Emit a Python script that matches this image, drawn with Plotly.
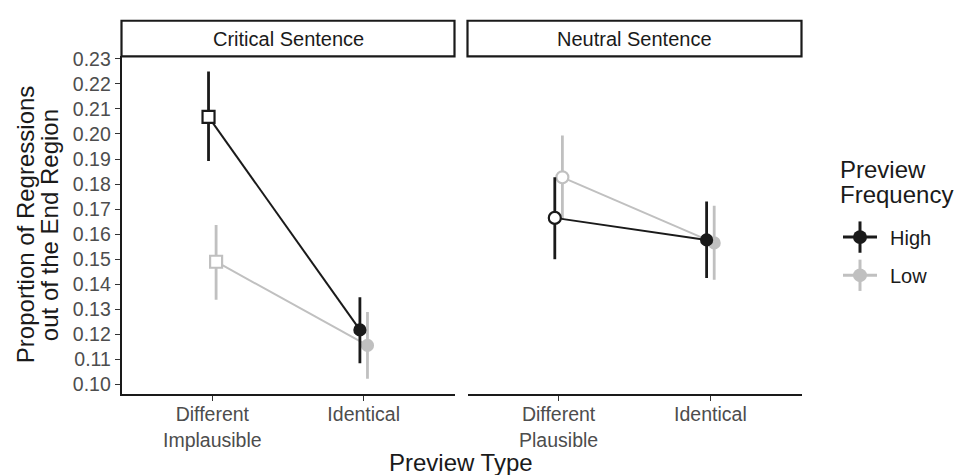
import plotly.graph_objects as go

# ---------------- data ----------------
facets = ["Critical Sentence", "Neutral Sentence"]
critical_types = ["Different<br>Implausible", "Identical"]
neutral_types = ["Different<br>Plausible", "Identical"]
frequencies = ["High", "Low"]

high_critical_mean = [0.2068, 0.1218]
high_critical_lo = [0.1892, 0.1085]
high_critical_hi = [0.2249, 0.1348]
low_critical_mean = [0.1490, 0.1156]
low_critical_lo = [0.1338, 0.1023]
low_critical_hi = [0.1637, 0.1289]

high_neutral_mean = [0.1665, 0.1577]
high_neutral_lo = [0.1500, 0.1425]
high_neutral_hi = [0.1827, 0.1730]
low_neutral_mean = [0.1827, 0.1565]
low_neutral_lo = [0.1660, 0.1418]
low_neutral_hi = [0.1994, 0.1713]

y_ticks = [0.10, 0.11, 0.12, 0.13, 0.14, 0.15, 0.16, 0.17, 0.18, 0.19, 0.20, 0.21, 0.22, 0.23]
y_title_lines = ["Proportion of Regressions", "out of the End Region"]
x_title = "Preview Type"
legend_title_lines = ["Preview", "Frequency"]

# ---------------- style ----------------
W, H = 956, 475
FONT = "Liberation Sans, Arial, sans-serif"
colors = {"High": "#1A1A1A", "Low": "#C0C0C0"}
dodge = {"High": -0.025, "Low": 0.025}
TICK_COLOR = "#4D4D4D"
TEXT_COLOR = "#1A1A1A"


def px_x(p):
    return p / W


def px_y(p):
    return 1 - p / H


left_dom = [px_x(121.5), px_x(454.5)]
right_dom = [px_x(467.5), px_x(801.5)]
y_dom = [px_y(393.3), px_y(48.3)]

fig = go.Figure()

series = [
    ("Low", "x", "y", low_critical_mean, low_critical_lo, low_critical_hi, ["square", "circle"]),
    ("Low", "x2", "y2", low_neutral_mean, low_neutral_lo, low_neutral_hi, ["circle", "circle"]),
    ("High", "x", "y", high_critical_mean, high_critical_lo, high_critical_hi, ["square", "circle"]),
    ("High", "x2", "y2", high_neutral_mean, high_neutral_lo, high_neutral_hi, ["circle", "circle"]),
]

for freq, xa, ya, mean, lo, hi, symbols in series:
    c = colors[freq]
    xs = [i + 1 + dodge[freq] for i in range(len(mean))]
    # error bars first (drawn beneath points)
    fig.add_trace(go.Scatter(
        x=xs, y=mean, xaxis=xa, yaxis=ya, mode="markers",
        marker=dict(size=1, opacity=0, color=c),
        error_y=dict(type="data", symmetric=False,
                     array=[h - m for h, m in zip(hi, mean)],
                     arrayminus=[m - l for m, l in zip(mean, lo)],
                     color=c, thickness=2.8, width=0),
        showlegend=False, hoverinfo="skip",
    ))
    fig.add_trace(go.Scatter(
        x=xs, y=mean, xaxis=xa, yaxis=ya, mode="lines+markers",
        line=dict(color=c, width=2),
        marker=dict(symbol=symbols, size=[12, 11], opacity=1,
                    color=["white", c], line=dict(color=c, width=2.2)),
        showlegend=False, hoverinfo="skip",
    ))

axis_common = dict(showgrid=False, zeroline=False, ticks="outside", ticklen=5,
                   tickwidth=1.2, tickcolor="#333333",
                   tickfont=dict(family=FONT, size=19.5, color=TICK_COLOR),
                   showline=True, linecolor="#1A1A1A", linewidth=1.6)

yr = [0.0962, 0.2310]
fig.update_layout(
    width=W, height=H,
    margin=dict(l=0, r=0, t=0, b=0),
    paper_bgcolor="white", plot_bgcolor="white",
    showlegend=False,
    xaxis=dict(domain=left_dom, range=[0.4, 2.6], tickvals=[1, 2],
               ticktext=critical_types, anchor="y", ticklabelstandoff=-3, **axis_common),
    xaxis2=dict(domain=right_dom, range=[0.4, 2.6], tickvals=[1, 2],
                ticktext=neutral_types, anchor="y2", ticklabelstandoff=-3, **axis_common),
    yaxis=dict(domain=y_dom, range=yr, tickvals=y_ticks, tickformat=".2f",
               anchor="x", **axis_common),
    yaxis2=dict(domain=y_dom, range=yr, anchor="x2", showgrid=False, zeroline=False,
                showline=False, showticklabels=False, ticks=""),
    font=dict(family=FONT),
)

shapes = []
annotations = []

# facet strips
for name, dom in zip(facets, [left_dom, right_dom]):
    shapes.append(dict(type="rect", xref="paper", yref="paper",
                       x0=dom[0], x1=dom[1], y0=px_y(48.3), y1=px_y(12),
                       line=dict(color=TEXT_COLOR, width=2.2), fillcolor="white"))
    annotations.append(dict(text=name, xref="paper", yref="paper",
                            x=(dom[0] + dom[1]) / 2, y=px_y(30.5),
                            xanchor="center", yanchor="middle", showarrow=False,
                            font=dict(family=FONT, size=20, color=TEXT_COLOR)))

# axis titles
annotations.append(dict(text=x_title, xref="paper", yref="paper",
                        x=(left_dom[0] + right_dom[1]) / 2, y=px_y(463),
                        xanchor="center", yanchor="middle", showarrow=False,
                        font=dict(family=FONT, size=24, color=TEXT_COLOR)))
for i, line in enumerate(y_title_lines):
    annotations.append(dict(text=line, xref="paper", yref="paper",
                            x=px_x(25 + 24 * i), y=(y_dom[0] + y_dom[1]) / 2,
                            xanchor="center", yanchor="middle", showarrow=False,
                            textangle=-90,
                            font=dict(family=FONT, size=24, color=TEXT_COLOR)))

# legend (drawn manually to reproduce the pointrange key glyphs)
for i, line in enumerate(legend_title_lines):
    annotations.append(dict(text=line, xref="paper", yref="paper",
                            x=px_x(838), y=px_y(164 + 25 * i),
                            xanchor="left", yanchor="middle", showarrow=False,
                            font=dict(family=FONT, size=24, color=TEXT_COLOR)))
for i, freq in enumerate(frequencies):
    c = colors[freq]
    cy = 233 + 39 * i
    shapes.append(dict(type="line", xref="paper", yref="paper",
                       x0=px_x(843), x1=px_x(877), y0=px_y(cy), y1=px_y(cy),
                       line=dict(color=c, width=3)))
    shapes.append(dict(type="line", xref="paper", yref="paper",
                       x0=px_x(860), x1=px_x(860), y0=px_y(cy - 16), y1=px_y(cy + 16),
                       line=dict(color=c, width=3)))
    shapes.append(dict(type="circle", xref="paper", yref="paper",
                       x0=px_x(853), x1=px_x(867), y0=px_y(cy - 7), y1=px_y(cy + 7),
                       line=dict(color=c, width=0), fillcolor=c))
    annotations.append(dict(text=freq, xref="paper", yref="paper",
                            x=px_x(888), y=px_y(cy + 1),
                            xanchor="left", yanchor="middle", showarrow=False,
                            font=dict(family=FONT, size=20, color=TEXT_COLOR)))

fig.update_layout(shapes=shapes, annotations=annotations)
fig.write_html("out.html")
